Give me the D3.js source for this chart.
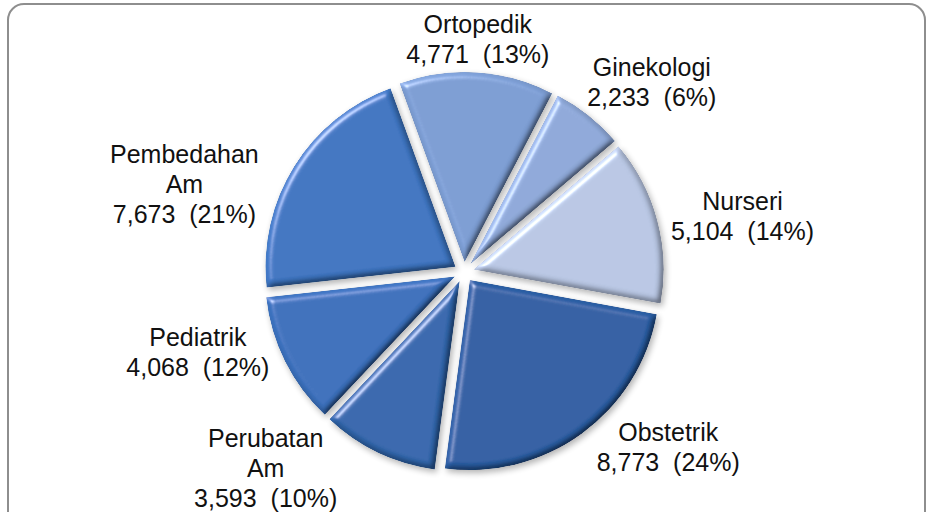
<!DOCTYPE html>
<html>
<head>
<meta charset="utf-8">
<script src="https://cdn.jsdelivr.net/npm/d3@7"></script>
<style>
  html, body { margin: 0; padding: 0; background: #ffffff; }
  svg { display: block; }
  text { font-family: "Liberation Sans", Arial, sans-serif; }
</style>
</head>
<body>
<svg id="chart" width="926" height="512"></svg>
<script>
// ---- data ----
const categories = ["Ortopedik", "Ginekologi", "Nurseri", "Obstetrik", "Perubatan Am", "Pediatrik", "Pembedahan Am"];
const values = [4771, 2233, 5104, 8773, 3593, 4068, 7673];
const percentLabels = ["13%", "6%", "14%", "24%", "10%", "12%", "21%"];
const labelLines = [["Ortopedik"], ["Ginekologi"], ["Nurseri"], ["Obstetrik"], ["Perubatan", "Am"], ["Pediatrik"], ["Pembedahan", "Am"]];

// ---- styling / layout ----
const colors = ["#7b9cd2", "#8ea8d8", "#b8c6e3", "#2c5da2", "#3266ac", "#3a6fbb", "#3d74c0"];
const labelPlacement = [[3.4, 233], [44.7, 267], [78.7, 284], [130.6, 269], [225.3, 279], [253.2, 278], [287.4, 293]];
const W = 926, H = 512;
const cx = 464, cy = 272, R = 190, explode = 10;
const startDeg = -20;

const svg = d3.select("#chart");
const defs = svg.append("defs");

const f = defs.append("filter").attr("id", "bevel")
  .attr("x", "-10%").attr("y", "-10%").attr("width", "125%").attr("height", "125%");
f.append("feGaussianBlur").attr("in", "SourceAlpha").attr("stdDeviation", 3).attr("result", "blur");
const spec = f.append("feSpecularLighting").attr("in", "blur").attr("surfaceScale", 5)
  .attr("specularConstant", 0.6).attr("specularExponent", 28).attr("lighting-color", "#ffffff").attr("result", "spec");
spec.append("feDistantLight").attr("azimuth", 225).attr("elevation", 35);
f.append("feComposite").attr("in", "spec").attr("in2", "SourceAlpha").attr("operator", "in").attr("result", "specIn");
f.append("feComposite").attr("in", "SourceGraphic").attr("in2", "specIn").attr("operator", "arithmetic")
  .attr("k1", 0).attr("k2", 1).attr("k3", 0.7).attr("k4", 0).attr("result", "lit");
// dark rim (bottom-right)
const diff = f.append("feDiffuseLighting").attr("in", "blur").attr("surfaceScale", 4)
  .attr("diffuseConstant", 1).attr("lighting-color", "#ffffff").attr("result", "diff");
diff.append("feDistantLight").attr("azimuth", 225).attr("elevation", 55);
f.append("feComposite").attr("in", "lit").attr("in2", "diff").attr("operator", "arithmetic")
  .attr("k1", 1.22).attr("k2", 0).attr("k3", 0).attr("k4", 0).attr("result", "shaded");
f.append("feComposite").attr("in", "shaded").attr("in2", "SourceAlpha").attr("operator", "in").attr("result", "final");
f.append("feGaussianBlur").attr("in", "SourceAlpha").attr("stdDeviation", 3).attr("result", "sblur");
f.append("feOffset").attr("in", "sblur").attr("dx", 2).attr("dy", 3).attr("result", "soff");
f.append("feComponentTransfer").attr("in", "soff").attr("result", "shadow")
  .append("feFuncA").attr("type", "linear").attr("slope", 0.3);
const merge = f.append("feMerge");
merge.append("feMergeNode").attr("in", "shadow");
merge.append("feMergeNode").attr("in", "final");

// frame
svg.append("rect").attr("x", 8).attr("y", 4).attr("width", 917).attr("height", 530)
  .attr("rx", 16).attr("ry", 16).attr("fill", "#ffffff").attr("stroke", "#8e8e8e").attr("stroke-width", 2);

const data = categories.map((c, i) => ({ name: c, value: values[i], pct: percentLabels[i], lines: labelLines[i], color: colors[i], place: labelPlacement[i] }));

const pie = d3.pie().value(d => d.value).sort(null)
  .startAngle(startDeg * Math.PI / 180).endAngle((startDeg + 360) * Math.PI / 180);
const arc = d3.arc().innerRadius(0).outerRadius(R);
const arcs = pie(data);

const g = svg.append("g").attr("transform", `translate(${cx},${cy})`);

g.selectAll("path.slice").data(arcs).enter().append("path")
  .attr("class", "slice")
  .attr("d", arc)
  .attr("fill", d => d.data.color)
  .attr("filter", "url(#bevel)")
  .attr("transform", d => {
    const m = (d.startAngle + d.endAngle) / 2;
    return `translate(${explode * Math.sin(m)},${-explode * Math.cos(m)})`;
  });

// labels
const fs = 25, lh = 30;
const lg = svg.append("g");
arcs.forEach(d => {
  const a = d.data.place[0] * Math.PI / 180, r = d.data.place[1];
  const x = cx + r * Math.sin(a), y = cy - r * Math.cos(a);
  const lines = d.data.lines.concat([d3.format(",")(d.data.value) + "\u00a0 (" + d.data.pct + ")"]);
  const n = lines.length;
  const firstBase = y - (n - 1) * lh / 2 + fs * 0.36;
  const t = lg.append("text").attr("text-anchor", "middle").attr("font-size", fs).attr("fill", "#111");
  lines.forEach((s, i) => {
    t.append("tspan").attr("x", x).attr("y", firstBase + i * lh).text(s);
  });
});
</script>
</body>
</html>
